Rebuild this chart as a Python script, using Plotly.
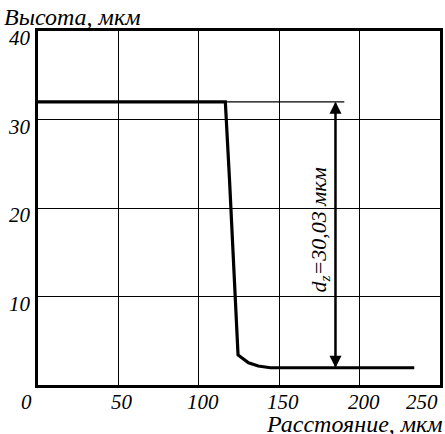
import plotly.graph_objects as go

# Data
dist = [0, 116.5, 119.1, 124.4, 130.9, 137.0, 144.4, 234]
height = [32, 32, 23.2, 3.4, 2.5, 2.15, 1.95, 1.95]
x_ticks = [0, 50, 100, 150, 200, 250]
x_ticklabels = ["0", "50", "100", "150", "200", "250"]
y_ticks = [10, 20, 30, 40]
y_ticklabels = ["10", "20", "30", "40"]
dz_top = 32
dz_bottom = 1.95
dz_x = 185
dz_ext_end = 190.5
dz_label = "d<sub>z</sub>=30,03 мкм"
x_title = "Расстояние, мкм"
y_title = "Высота, мкм"

FONT = "Liberation Serif"
tick_sz = 21
title_sz = 24

fig = go.Figure()
fig.add_trace(go.Scatter(x=dist, y=height, mode="lines",
                         line=dict(color="black", width=3.2), showlegend=False,
                         hoverinfo="skip"))

fig.add_shape(type="line", x0=dist[1], x1=dz_ext_end, y0=dz_top, y1=dz_top,
              line=dict(color="black", width=1.3))
fig.add_annotation(x=dz_x, y=dz_top, ax=dz_x, ay=dz_bottom, xref="x", yref="y",
                   axref="x", ayref="y", showarrow=True, arrowhead=2, arrowsize=1.2,
                   arrowwidth=2, arrowcolor="black", text="")
fig.add_annotation(x=dz_x, y=dz_bottom, ax=dz_x, ay=dz_top, xref="x", yref="y",
                   axref="x", ayref="y", showarrow=True, arrowhead=2, arrowsize=1.2,
                   arrowwidth=2, arrowcolor="black", text="")
fig.add_annotation(x=dz_x - 9.5, y=(dz_top + dz_bottom) / 2 + 0.5, text=dz_label,
                   textangle=-90, showarrow=False,
                   font=dict(family=FONT, size=22, style="italic", color="black"))

for v, t in zip(x_ticks, x_ticklabels):
    anchor = "center"
    if v == x_ticks[0] or v == x_ticks[-1]:
        anchor = "right"
    fig.add_annotation(x=v, y=0, xref="x", yref="y", text=t, showarrow=False,
                       xanchor=anchor, yanchor="top", yshift=-3,
                       xshift=(-4 if v == x_ticks[0] else (4 if anchor == "center" else 0)),
                       font=dict(family=FONT, size=tick_sz, style="italic", color="black"))
for v, t in zip(y_ticks, y_ticklabels):
    fig.add_annotation(x=0, y=v, xref="x", yref="y", text=t, showarrow=False,
                       xanchor="right", yanchor="middle", yshift=-7, xshift=-5,
                       font=dict(family=FONT, size=tick_sz, style="italic", color="black"))

fig.add_annotation(x=1, y=-0.065, xref="paper", yref="paper", text=x_title,
                   showarrow=False, xanchor="right", yanchor="top", xshift=5, yshift=-1,
                   font=dict(family=FONT, size=title_sz, style="italic", color="black"))
fig.add_annotation(x=-0.09, y=1.0, xref="paper", yref="paper", text=y_title,
                   showarrow=False, xanchor="left", yanchor="bottom", yshift=-1,
                   font=dict(family=FONT, size=title_sz, style="italic", color="black"))

fig.update_xaxes(range=[0, 250], tickvals=x_ticks, showticklabels=False,
                 showgrid=True, gridcolor="black", gridwidth=1.2, zeroline=False,
                 showline=True, linecolor="black", linewidth=2.5, mirror=True, ticks="")
fig.update_yaxes(range=[0, 40], tickvals=y_ticks, showticklabels=False,
                 showgrid=True, gridcolor="black", gridwidth=1.2, zeroline=False,
                 showline=True, linecolor="black", linewidth=2.5, mirror=True, ticks="")

fig.update_layout(width=445, height=434, margin=dict(l=38, r=2, t=31, b=49),
                  paper_bgcolor="white", plot_bgcolor="white")
fig.write_html("out.html")
